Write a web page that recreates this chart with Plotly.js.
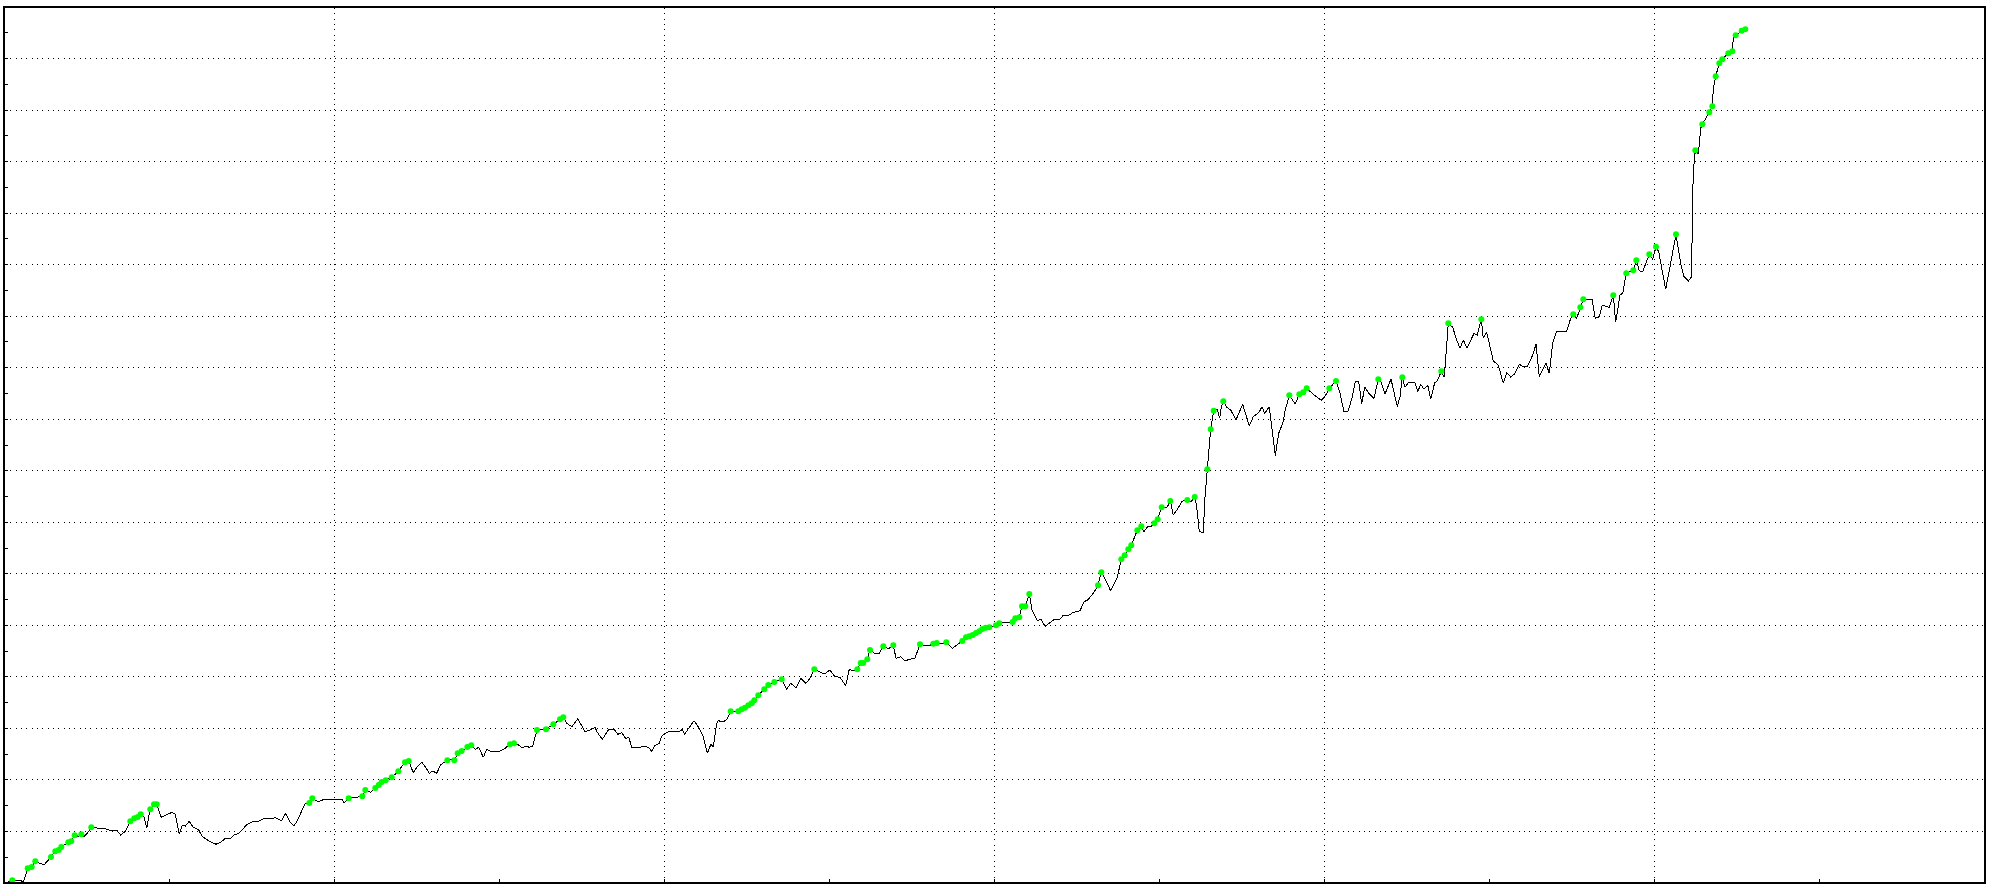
<!DOCTYPE html>
<html>
<head>
<meta charset="utf-8">
<script src="https://cdn.plot.ly/plotly-3.0.1.min.js"></script>
<style>
  html, body { margin: 0; padding: 0; background: #ffffff; }
  #chart { width: 1994px; height: 889px; }
  #chart .scatterlayer .js-line { shape-rendering: crispEdges; }
  #chart .gridlayer path { shape-rendering: crispEdges; }
</style>
</head>
<body>
<div id="chart"></div>
<script>
// Trade sequence position (x) and account balance (y)
const tradeIndex = [
  3.3, 8.3, 16.7, 19.3, 23.7, 27.7, 31.3, 36, 40, 47,
  51.3, 54.7, 57.3, 64.3, 67.3, 70.7, 74.7, 77.3, 80, 83.3,
  87.3, 92.7, 101, 107.7, 112.7, 116.7, 121, 126.3, 130.3, 133.7,
  136.7, 140, 142.7, 144.7, 146.3, 150, 152.7, 157.3, 162, 168,
  171.3, 173.3, 175.3, 178.3, 181.3, 185.3, 188.7, 194.7, 198.3, 204.7,
  212, 217.3, 221, 226, 230, 234.7, 238.3, 242, 247.7, 254.3,
  261, 266.7, 271.3, 277.7, 281.3, 286, 290, 293.7, 297.7, 301,
  305.3, 308.3, 314.3, 320, 329.3, 337.7, 340, 344.7, 352.7, 358.3,
  361.3, 366.7, 371.3, 374.7, 377.7, 381.7, 387.7, 394.3,
  401, 404.7, 409.3, 413.3, 417.7, 421.3, 425.3, 428.7, 432.7, 436.7,
  443.3, 447, 450.3, 453.7, 457.7, 463.3, 467.3, 471.3, 474.7, 479.3,
  482.7, 487, 495.3, 501, 506, 510, 514, 518.3, 522, 525.3,
  528.7, 533, 542, 549.3, 556, 559.3, 562.7, 568, 573.7, 581,
  586, 591, 593.3, 598.3, 605, 610, 613.7, 617.7, 622, 624.7,
  627.7, 634.3, 642, 645.3, 647.7, 651, 655.3, 657.7, 662.7, 669.3,
  676, 678.3, 680.7, 685.3, 690, 695.3, 699.3, 703.3, 707, 709.3,
  712.7, 714.3, 719.3, 722.7, 726.7, 734.3, 737.7, 741, 744.3, 747.7,
  750.3, 754.3, 760.3, 764.3, 770.3, 777.7, 782.7, 786.7, 792, 797,
  802, 806.7,
  810.3, 816, 820.3, 826, 831, 836, 841.7, 845.3, 849.3, 853.3,
  856.7, 859.3, 863.3, 866, 871, 875.3, 879.3, 884.7, 889.3, 892,
  896.7, 901, 906, 911, 916, 921, 924.3, 929.3, 932.7, 937.7,
  942.3, 948.3, 952.7, 958.3, 962, 965.3, 968.7, 972, 975.3, 978.3,
  981.7, 985.3, 992, 995.3, 1001, 1006, 1008.7, 1011.3, 1015.3, 1018,
  1021.3, 1023.3, 1025.3, 1028, 1033.3, 1036.7, 1041, 1045.3, 1050.3, 1056,
  1059.3, 1065.3, 1068.7, 1076, 1080, 1083.7, 1090, 1094, 1097.3, 1101.7,
  1106.7, 1113.3,
  1117.3, 1120.7, 1124.3, 1127.3, 1133.3, 1137.3, 1140, 1143.3, 1146.7, 1150.3,
  1153.7, 1157.7, 1162.7, 1166.3, 1169.3, 1173.3, 1178, 1183.3, 1187, 1190.7,
  1192.7, 1195.3, 1199.3, 1201, 1203.3, 1205, 1206.7, 1209.7, 1213.3, 1215.7,
  1217.3, 1219.3, 1222.7, 1226.7, 1232, 1238.7, 1245.3, 1249.3, 1255, 1258,
  1260.7, 1265.3, 1268, 1271.3, 1274.7, 1278.7, 1281.3, 1285.3, 1291.3, 1295.3,
  1299.3, 1302.7, 1310, 1317.3, 1321.3, 1325.3, 1332,
  1336, 1340, 1344.3, 1348.3, 1351.3, 1354.7, 1357.7, 1360.7, 1364.7, 1370,
  1374.3, 1377, 1381, 1387, 1390, 1393.3, 1396, 1398.3, 1401, 1404.3,
  1411, 1413.7, 1416.7, 1420, 1423.7, 1426.7, 1430.7, 1433.3, 1437.3, 1440.3,
  1444.3, 1448.7, 1452.7, 1456, 1459.3, 1463, 1470, 1473.3, 1477.3, 1479.3,
  1482.7, 1489.3, 1494.3, 1499.3, 1502.7, 1506.7, 1510.5, 1515.5,
  1519.3, 1523.3, 1528.7, 1532, 1535.3, 1542, 1545.3, 1548.7, 1552.7, 1562.7,
  1566.7, 1569.3, 1572.7, 1576.3, 1579.3, 1584.3, 1588, 1591.3, 1595.3, 1598.3,
  1605.3, 1609.3, 1611.7, 1616, 1618.7, 1622.3, 1629.3, 1632.3, 1635.3, 1638.7,
  1645.3, 1648.7, 1652, 1654.7, 1658.3, 1661.7, 1666, 1672, 1676.7, 1680,
  1684.3, 1687.7, 1688.3, 1689.3, 1691.3, 1694.3, 1696.7, 1698.3, 1705.3, 1708.3,
  1709.3, 1711.7, 1715.3, 1718.3, 1724.3, 1728.3, 1729.3, 1731.7, 1737.7, 1741.3
];

const balance = [
  0.7, 2.7, 2.7, 0.3, 14.7, 16, 21.7, 19.7, 18, 26,
  31.7, 33, 36, 40.7, 41.7, 47.7, 46.7, 48.7, 46.3, 49.7,
  55.7, 55, 54.3, 52, 52.7, 48, 51.3, 61.7, 64.7, 66,
  68.7, 66.3, 54.7, 66.3, 73.7, 78.7, 78.7, 65.7, 68, 70.7,
  68.7, 59.7, 49, 58, 57, 61.7, 56.3, 53, 46.3, 42.3,
  38.7, 41.3, 44.3, 44.3, 48, 49.7, 53, 57.7, 61, 61.7,
  65, 64.3, 65.3, 62, 69.7, 61.3, 57, 63, 73, 79.3,
  80, 84.7, 81, 83.7, 84, 84, 80, 84.7, 85.7, 86.7,
  93, 90.7, 95, 98, 101, 102.7, 105.7, 111.7,
  120.7, 122, 110.3, 116.3, 120.7, 116.3, 109.7, 112, 109.7, 118.3,
  122.7, 123.3, 122.7, 129.7, 132, 136, 137.7, 133.7, 135.7, 125.7,
  133.7, 131.7, 131.7, 134.7, 138.7, 139.7, 138.3, 135, 137, 135.7,
  137, 153, 153.7, 158.7, 163.7, 165.7, 159.7, 156.3, 164.3, 151.3,
  153, 155.7, 150.7, 143.7, 154, 154, 148.7, 150.3, 144, 146,
  135.7, 135.7, 136.7, 135, 131.7, 137.7, 139.7, 147, 150.7, 152,
  152, 153.7, 149, 155.7, 162.3, 154.7, 146.3, 129.7, 139, 135.7,
  159.7, 162.3, 161, 163.7, 171.7, 171.7, 173.7, 175.3, 177.7, 179.7,
  182.7, 187.7, 193.7, 198, 201, 203.7, 194, 199.7, 195.3, 204.7,
  199.7, 205.7,
  213.7, 210.7, 209, 213, 206.3, 205.7, 197.3, 213.7, 212.3, 213.7,
  220, 220, 223.7, 233, 229.3, 229.7, 236.7, 234.3, 237.7, 224.7,
  226.3, 222.3, 224, 225, 238.7, 237.3, 237, 239.3, 240, 239,
  240.7, 234.7, 237.7, 242, 245.7, 246.7, 248, 250, 251.7, 254,
  255.3, 255.7, 257.7, 259.7, 260.3, 261.3, 261, 264.7, 265.7, 276.7,
  276.7, 283, 289, 273, 262.3, 264, 256.7, 259.7, 263.7, 263.7,
  267.7, 268, 270.3, 272.3, 281.3, 283, 290.7, 297.7, 310.7, 303,
  292, 305.7,
  323.7, 327.7, 333.7, 337.7, 352.7, 356.7, 351.3, 356, 356.3, 359.7,
  363.7, 375.7, 375, 382, 368, 373.7, 381.7, 383, 381.3, 386,
  376.3, 351.3, 350.7, 386.3, 413.7, 436.3, 453.7, 472.3, 473.7, 464.7,
  476.3, 481.7, 475.7, 473, 463, 478.7, 457, 466.3, 470.7, 476.3,
  469.7, 476.3, 456.3, 427.3, 449.7, 459.7, 473, 487.7, 479, 488.7,
  490.7, 494.7, 488, 482.7, 487, 494.7, 502,
  489.7, 471.3, 472, 486.3, 501.7, 501.7, 479, 496.3, 489.7, 484.7,
  503.7, 501.3, 489, 504, 489.7, 476.3, 486.3, 505.7, 495.7, 500.3,
  500.3, 491.3, 498.7, 493.7, 498, 483.7, 500.3, 502, 511.7, 505.7,
  559.7, 555.7, 543, 534.7, 543, 534.7, 549.7, 548, 563.7, 544.7,
  550.7, 522, 518, 499.7, 510.5, 506, 509, 518.7,
  516.3, 516.3, 528, 538.7, 506.3, 519.7, 509.7, 539.7, 552, 552,
  564.7, 568.7, 564.7, 575.7, 583.7, 583, 583.7, 564.7, 566.3, 578,
  575.7, 587.7, 560.7, 588, 589.7, 609.7, 612.7, 622.7, 612.3, 611.3,
  628.7, 623.7, 636.3, 631.3, 609.7, 593.7, 616.3, 648.7, 619.7, 606.3,
  602, 606.3, 669.7, 711.3, 732.7, 728.7, 754.7, 758.7, 770.7, 776.7,
  793.7, 806.7, 819.7, 823.7, 829.7, 831.7, 844.7, 847.7, 852.3, 853.7
];

// 1 = point highlighted with a green marker (new balance high)
const highlighted = [
  1,1,0,0,1,1,1,0,0,1,
  1,1,1,1,1,1,0,1,0,0,
  1,0,0,0,0,0,0,1,1,1,
  1,0,0,0,1,1,1,0,0,0,
  0,0,0,0,0,0,0,0,0,0,
  0,0,0,0,0,0,0,0,0,0,
  0,0,0,0,0,0,0,0,0,0,
  1,1,0,0,0,0,0,1,0,1,
  1,0,1,1,1,1,1,1,
  1,1,0,0,0,0,0,0,0,0,
  1,0,1,1,1,1,1,0,0,0,
  0,0,0,0,1,1,0,0,0,0,
  0,1,1,1,1,1,0,0,0,0,
  0,0,0,0,0,0,0,0,0,0,
  0,0,0,0,0,0,0,0,0,0,
  0,0,0,0,0,0,0,0,0,0,
  0,0,0,0,1,1,1,1,1,1,
  1,1,1,1,1,1,0,0,0,0,
  0,0,
  1,0,0,0,0,0,0,0,0,1,
  1,1,1,1,0,0,1,0,1,0,
  0,0,0,0,1,0,0,1,1,0,
  1,0,0,1,1,1,1,1,1,1,
  1,1,1,1,0,0,1,1,1,1,
  1,0,1,0,0,0,0,0,0,0,
  0,0,0,0,0,0,0,1,1,0,
  0,0,
  1,1,1,1,1,1,0,0,0,1,
  1,1,0,1,0,0,0,1,0,1,
  0,0,0,0,1,0,1,1,0,0,
  0,1,0,0,0,0,0,0,0,0,
  0,0,0,0,0,0,0,1,0,1,
  1,1,0,0,0,1,1,
  0,0,0,0,0,0,0,0,0,0,
  1,0,0,0,0,0,0,1,0,0,
  0,0,0,0,0,0,0,0,1,0,
  1,0,0,0,0,0,0,0,1,0,
  0,0,0,0,0,0,0,0,
  0,0,0,0,0,0,0,0,0,0,
  0,1,0,1,1,0,0,0,0,0,
  0,1,0,0,0,1,1,1,0,0,
  1,0,1,0,0,0,0,1,0,0,
  0,0,0,0,1,0,0,1,1,1,
  0,1,1,1,1,1,0,1,1,1
];

const markX = tradeIndex.filter((v, i) => highlighted[i] === 1);
const markY = balance.filter((v, i) => highlighted[i] === 1);

const gridStep = 51.53;
const xGridStep = 330.17;

const traces = [
  {
    x: tradeIndex, y: balance, type: 'scatter', mode: 'lines',
    line: { color: '#000000', width: 1 },
    hoverinfo: 'skip', showlegend: false
  },
  {
    x: markX, y: markY, type: 'scatter', mode: 'markers',
    marker: { color: '#00ff00', size: 6, line: { width: 0 } },
    cliponaxis: false,
    hoverinfo: 'skip', showlegend: false
  }
];

const axisCommon = {
  showticklabels: false,
  showline: true, linecolor: '#000000', linewidth: 2, mirror: true,
  zeroline: false,
  showgrid: true, gridcolor: '#000000', gridwidth: 1, griddash: '1px,4.33px',
  ticks: 'inside', ticklen: 3, tickwidth: 1, tickcolor: '#000000',
  tickmode: 'linear', tick0: 0
};

const layout = {
  width: 1994, height: 889,
  margin: { l: 5, r: 10, t: 8, b: 7, pad: 0 },
  paper_bgcolor: '#ffffff', plot_bgcolor: '#ffffff',
  showlegend: false,
  xaxis: Object.assign({}, axisCommon, {
    range: [1, 1980], dtick: xGridStep,
    minor: { dtick: xGridStep / 2, tick0: 0, ticks: 'inside', ticklen: 3, tickcolor: '#000000', showgrid: false }
  }),
  yaxis: Object.assign({}, axisCommon, {
    range: [1, 875], dtick: gridStep,
    minor: { dtick: gridStep / 2, tick0: 0, ticks: 'inside', ticklen: 3, tickcolor: '#000000', showgrid: false }
  })
};

Plotly.newPlot('chart', traces, layout, { staticPlot: true, displayModeBar: false });
</script>
</body>
</html>
